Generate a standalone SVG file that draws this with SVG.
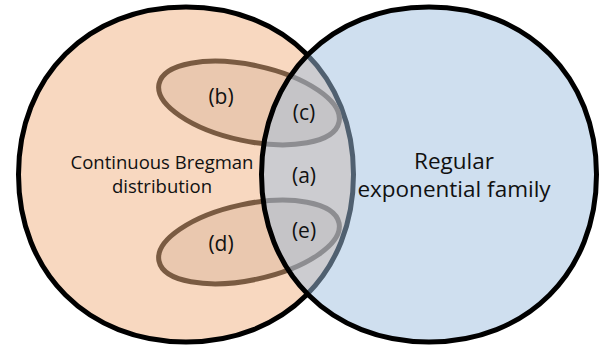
<svg xmlns="http://www.w3.org/2000/svg" width="610" height="350" viewBox="0 0 610 350">
<style>
.lbl{font-family:"Open Sans","Noto Sans","Liberation Sans",sans-serif;fill:#111;text-anchor:middle}
.sub{stroke:#7a5b42;stroke-width:5;fill:#8a5a36;fill-opacity:0.12}
</style>
<rect width="610" height="350" fill="#ffffff"/>
<g id="bregman">
<path d="M353.5,174.5 C353.5,272.5 284,342 186,342 C88,342 18.5,272.5 18.5,174.5 C18.5,76.5 88,7 186,7 C284,7 353.5,76.5 353.5,174.5Z" fill="#f8d8c0" stroke="#000" stroke-width="5"/>
<text class="lbl" x="162" y="169" font-size="18.5">Continuous Bregman</text>
<text class="lbl" x="162" y="193" font-size="18.5">distribution</text>
</g>
<g id="set-b">
<ellipse cx="249" cy="103" rx="92" ry="38" transform="rotate(12 249 103)" class="sub"/>
</g>
<g id="set-d">
<ellipse cx="249" cy="242" rx="92" ry="38" transform="rotate(-12 249 242)" class="sub"/>
</g>
<g id="exponential">
<path d="M596.5,174.5 C596.5,272.5 527,342 429,342 C331,342 261.5,272.5 261.5,174.5 C261.5,76.5 331,7 429,7 C527,7 596.5,76.5 596.5,174.5Z" fill="#a0bfdf" fill-opacity="0.5" stroke="none"/>
<path d="M596.5,174.5 C596.5,272.5 527,342 429,342 C331,342 261.5,272.5 261.5,174.5 C261.5,76.5 331,7 429,7 C527,7 596.5,76.5 596.5,174.5Z" fill="none" stroke="#000" stroke-width="5"/>
<text class="lbl" x="454" y="169" font-size="22.5">Regular</text>
<text class="lbl" x="454" y="197" font-size="22.5">exponential family</text>
</g>
<g id="labels">
<text class="lbl" x="221" y="104" font-size="21">(b)</text>
<text class="lbl" x="304" y="120" font-size="21">(c)</text>
<text class="lbl" x="304" y="183" font-size="21">(a)</text>
<text class="lbl" x="304" y="238" font-size="21">(e)</text>
<text class="lbl" x="221" y="251" font-size="21">(d)</text>
</g>
</svg>
